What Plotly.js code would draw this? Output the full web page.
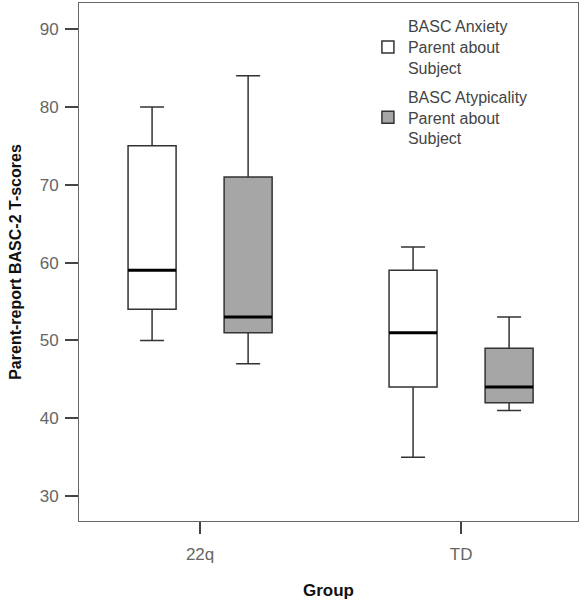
<!DOCTYPE html>
<html>
<head>
<meta charset="utf-8">
<script src="https://cdn.plot.ly/plotly-3.0.1.min.js"></script>
<style>body{margin:0;background:#fff}#chart{width:585px;height:600px}</style>
</head>
<body>
<div id="chart"></div>
<script>
const groups = ["22q", "TD"];
const seriesNames = ["BASC Anxiety<br>Parent about<br>Subject", "BASC Atypicality<br>Parent about<br>Subject"];
const anxietyMin = [50, 35];
const anxietyQ1 = [54, 44];
const anxietyMedian = [59, 51];
const anxietyQ3 = [75, 59];
const anxietyMax = [80, 62];
const atypMin = [47, 41];
const atypQ1 = [51, 42];
const atypMedian = [53, 44];
const atypQ3 = [71, 49];
const atypMax = [84, 53];
const yTicks = [30, 40, 50, 60, 70, 80, 90];

function boxTrace(name, q1, med, q3, lo, hi, fill, og) {
  return {
    type: "box", name: name, x: groups, q1: q1, median: med, q3: q3,
    lowerfence: lo, upperfence: hi, fillcolor: fill, offsetgroup: og, legendgroup: og,
    line: {color: "#333333", width: 1.5}, whiskerwidth: 0.5, hoverinfo: "skip"
  };
}
function medianTrace(med, og) {
  return {
    type: "box", x: groups, q1: med, median: med, q3: med,
    lowerfence: med, upperfence: med, fillcolor: "rgba(0,0,0,0)",
    offsetgroup: og, legendgroup: og, whiskerwidth: 0, showlegend: false,
    line: {color: "#000000", width: 3}, hoverinfo: "skip"
  };
}

const data = [
  boxTrace(seriesNames[0], anxietyQ1, anxietyMedian, anxietyQ3, anxietyMin, anxietyMax, "#ffffff", "a"),
  boxTrace(seriesNames[1], atypQ1, atypMedian, atypQ3, atypMin, atypMax, "#a6a6a6", "b"),
  medianTrace(anxietyMedian, "a"),
  medianTrace(atypMedian, "b")
];

const layout = {
  width: 585, height: 600,
  margin: {l: 79, r: 7, t: 3, b: 79},
  paper_bgcolor: "#ffffff", plot_bgcolor: "#ffffff",
  font: {family: "Liberation Sans, Arial, sans-serif", size: 16, color: "#555555"},
  boxmode: "group", boxgap: 0.264, boxgroupgap: 0.5,
  showlegend: true,
  legend: {x: 0.579, xanchor: "left", y: 0.988, yanchor: "top", bgcolor: "rgba(0,0,0,0)",
           traceorder: "grouped", font: {size: 16, color: "#444444"}, tracegroupgap: 5},
  xaxis: {
    type: "category", range: [-0.464, 1.448], showgrid: false, zeroline: false,
    showline: true, mirror: true, linecolor: "#666666", linewidth: 1,
    ticks: "outside", ticklen: 12, tickwidth: 2, tickcolor: "#444444",
    ticklabelstandoff: 6,
    tickfont: {size: 17, color: "#666666"},
    title: {text: "<b>Group</b>", font: {size: 17, color: "#111111"}, standoff: 22}
  },
  yaxis: {
    range: [26.8, 93.35], tickvals: yTicks, ticktext: yTicks.map(String),
    showgrid: false, zeroline: false,
    showline: true, mirror: true, linecolor: "#666666", linewidth: 1,
    ticks: "outside", ticklen: 13, tickwidth: 2, tickcolor: "#444444",
    ticklabelstandoff: 3,
    tickfont: {size: 17, color: "#666666"},
    title: {text: "<b>Parent-report BASC-2 T-scores</b>", font: {size: 16, color: "#111111"}, standoff: 14}
  }
};

Plotly.newPlot("chart", data, layout, {displayModeBar: false, staticPlot: true});
</script>
</body>
</html>
